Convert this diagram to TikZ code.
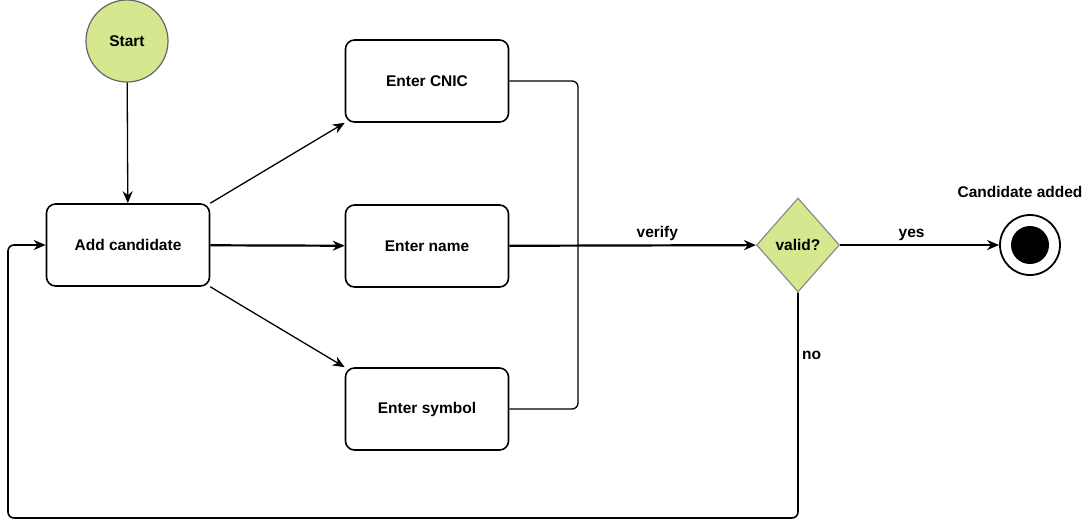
\documentclass[tikz,border=0pt]{standalone}
\usepackage{fontspec}
\setmainfont{Liberation Sans}
\usetikzlibrary{shapes.geometric,arrows.meta}
\definecolor{lightgreen}{RGB}{214,232,143}

\begin{document}
\begin{tikzpicture}[x=1pt,y=-1pt,
		font=\bfseries\fontsize{15.5}{18}\selectfont,
		state/.style={draw,line width=1.6pt,rounded corners=9pt,minimum width=163pt,minimum height=82pt},
		flow/.style={line width=2.2pt,-{Stealth[length=12pt,width=10pt]}},
		thinflow/.style={line width=1.3pt,-{Stealth[length=12pt,width=10pt]}}]
		\useasboundingbox (0,0) rectangle (1087,523);
		\node[circle,draw=black!60,line width=1.2pt,fill=lightgreen,minimum size=82pt] (start) at (127,41) {Start};
		\node[state] (add) at (128,245) {Add candidate};
		\node[state] (cnic) at (427,81) {Enter CNIC};
		\node[state] (name) at (427,246) {Enter name};
		\node[state] (symbol) at (427,409) {Enter symbol};
		\node[diamond,draw=black!45,line width=1.2pt,fill=lightgreen,minimum width=83pt,minimum height=94pt,inner sep=0pt] (valid) at (798,245) {valid?};
		\node[circle,draw,line width=1.8pt,minimum size=60pt] (end) at (1030,245) {};
		\node[circle,fill=black,minimum size=38pt] (dot) at (end) {};
		\node (endlabel) at (1020,192) {Candidate added};
		\coordinate (join) at (578,245);
		\coordinate (back) at (8,518);

		\draw[thinflow] (start) -- (add);
		\draw[thinflow] (add.north east) -- (cnic.south west);
		\draw[flow] (add) -- (name);
		\draw[thinflow] (add.south east) -- (symbol.north west);
		\draw[line width=1.3pt,rounded corners=6pt] (cnic.east) -| (join) |- (symbol.east);
		\draw[flow] (name) -- node[pos=0.6,above] {verify} (valid);
		\draw[flow] (valid) -- node[pos=0.45,above] {yes} (end);
		\draw[line width=1.6pt,-{Stealth[length=12pt,width=10pt]},rounded corners=6pt] (valid.south) |- node[pos=0.14,right] {no} (back) |- (add.west);
		\end{tikzpicture}
\end{document}
